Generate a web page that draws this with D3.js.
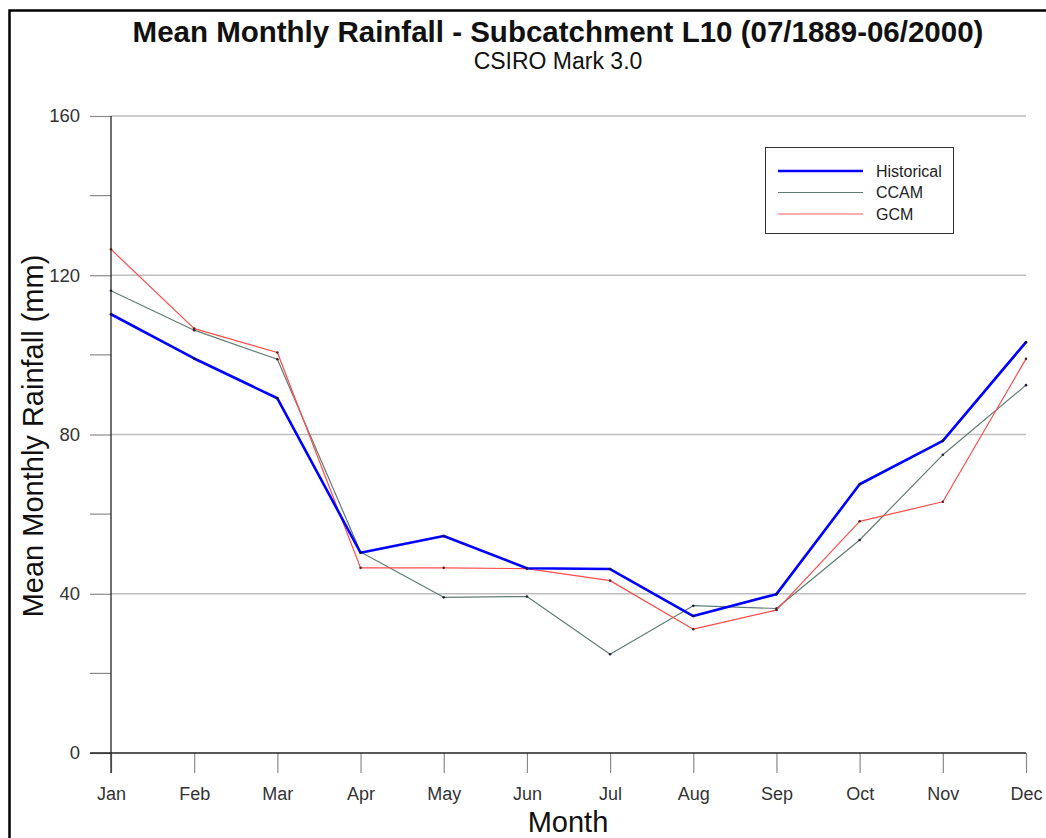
<!DOCTYPE html>
<html><head><meta charset="utf-8">
<script src="https://cdn.jsdelivr.net/npm/d3@7"></script>
<style>body{margin:0;background:#fff;}svg{display:block;font-family:"Liberation Sans",Arial,sans-serif;}</style>
</head><body><svg id="c" width="1046" height="838"></svg>
<script>
const months = ["Jan","Feb","Mar","Apr","May","Jun","Jul","Aug","Sep","Oct","Nov","Dec"];
const historical = [110.2, 99.1, 89.1, 50.3, 54.5, 46.4, 46.2, 34.4, 39.9, 67.5, 78.4, 103.2];
const ccam = [116.1, 106.2, 98.9, 50.5, 39.1, 39.3, 24.8, 37.0, 36.3, 53.5, 74.9, 92.4];
const gcm = [126.5, 106.6, 100.6, 46.5, 46.5, 46.3, 43.3, 31.1, 35.9, 58.2, 63.1, 99.0];
const yTicks = [0, 40, 80, 120, 160];
const yMinorTicks = [20, 60, 100, 140];

const svg = d3.select("#c");
const x = d3.scalePoint().domain(months).range([111, 1026]);
const y = d3.scaleLinear().domain([0, 160]).range([753, 116]);

// frame
svg.append("rect").attr("x", 9.5).attr("y", 10.5).attr("width", 1100).attr("height", 900)
  .attr("fill", "none").attr("stroke", "#000").attr("stroke-width", 2.5);

// gridlines
svg.append("g").selectAll("line").data(yTicks.filter(d => d > 0)).join("line")
  .attr("x1", 111).attr("x2", 1026).attr("y1", d => y(d)).attr("y2", d => y(d))
  .attr("stroke", "#bdbdbd").attr("stroke-width", 1.5);

// y axis
const yAxis = svg.append("g").attr("transform", "translate(111,0)")
  .call(d3.axisLeft(y).tickValues(yTicks).tickSize(21).tickPadding(10).tickFormat(d3.format("d")));
yAxis.select(".domain").remove();
yAxis.selectAll(".tick line").attr("stroke", "#8a8a8a").attr("stroke-width", 1.2);
yAxis.selectAll(".tick text").attr("font-size", 18.5).attr("fill", "#333").attr("font-family", "Liberation Sans, Arial, sans-serif");
svg.append("g").selectAll("line").data(yMinorTicks).join("line")
  .attr("x1", 90).attr("x2", 111).attr("y1", d => y(d)).attr("y2", d => y(d))
  .attr("stroke", "#8a8a8a").attr("stroke-width", 1.2);

// x axis
const xAxis = svg.append("g").attr("transform", "translate(0,753)")
  .call(d3.axisBottom(x).tickSize(20).tickPadding(14));
xAxis.select(".domain").remove();
xAxis.selectAll(".tick line").attr("stroke", "#8a8a8a").attr("stroke-width", 1.2);
xAxis.selectAll(".tick text").attr("font-size", 18).attr("fill", "#333").attr("font-family", "Liberation Sans, Arial, sans-serif");

// axis lines
svg.append("line").attr("x1", 111).attr("x2", 111).attr("y1", 116).attr("y2", 773).attr("stroke", "#222").attr("stroke-width", 1.3);
svg.append("line").attr("x1", 90).attr("x2", 1026).attr("y1", 753).attr("y2", 753).attr("stroke", "#222").attr("stroke-width", 1.3);

// series
const series = [
  {name: "CCAM", values: ccam, color: "#5f7d74", width: 1.2, dot: "#223"},
  {name: "GCM", values: gcm, color: "#ff4a4a", width: 1.2, dot: "#522"},
  {name: "Historical", values: historical, color: "#0000ff", width: 2.6, dot: "#113"}
];
const line = d3.line().x((d, i) => x(months[i])).y(d => y(d));
series.forEach(s => {
  svg.append("path").datum(s.values).attr("d", line).attr("fill", "none")
    .attr("stroke", s.color).attr("stroke-width", s.width).attr("stroke-linejoin", "round");
  svg.append("g").selectAll("circle").data(s.values).join("circle")
    .attr("cx", (d, i) => x(months[i])).attr("cy", d => y(d)).attr("r", 1.3).attr("fill", s.dot);
});

// legend
const lg = svg.append("g");
lg.append("rect").attr("x", 765.5).attr("y", 147.5).attr("width", 188).attr("height", 86)
  .attr("fill", "#fff").attr("stroke", "#333").attr("stroke-width", 1);
const legendItems = [
  {name: "Historical", color: "#0000ff", width: 2.6},
  {name: "CCAM", color: "#5f7d74", width: 1.2},
  {name: "GCM", color: "#ff5a5a", width: 1.2}
];
legendItems.forEach((d, i) => {
  const yy = 171 + i * 21.5;
  lg.append("line").attr("x1", 778).attr("x2", 863).attr("y1", yy).attr("y2", yy)
    .attr("stroke", d.color).attr("stroke-width", d.width);
  lg.append("text").attr("x", 876).attr("y", yy + 5.5).attr("font-size", 16).attr("fill", "#222").text(d.name);
});

// titles
svg.append("text").attr("x", 558).attr("y", 42).attr("text-anchor", "middle")
  .attr("font-size", 29.5).attr("font-weight", "bold").attr("fill", "#111")
  .text("Mean Monthly Rainfall - Subcatchment L10 (07/1889-06/2000)");
svg.append("text").attr("x", 558).attr("y", 69).attr("text-anchor", "middle")
  .attr("font-size", 23).attr("fill", "#111").text("CSIRO Mark 3.0");
svg.append("text").attr("x", 568).attr("y", 832).attr("text-anchor", "middle")
  .attr("font-size", 29).attr("fill", "#111").text("Month");
svg.append("text").attr("transform", "translate(43,436) rotate(-90)").attr("text-anchor", "middle")
  .attr("font-size", 29).attr("fill", "#111").text("Mean Monthly Rainfall (mm)");
</script></body></html>
